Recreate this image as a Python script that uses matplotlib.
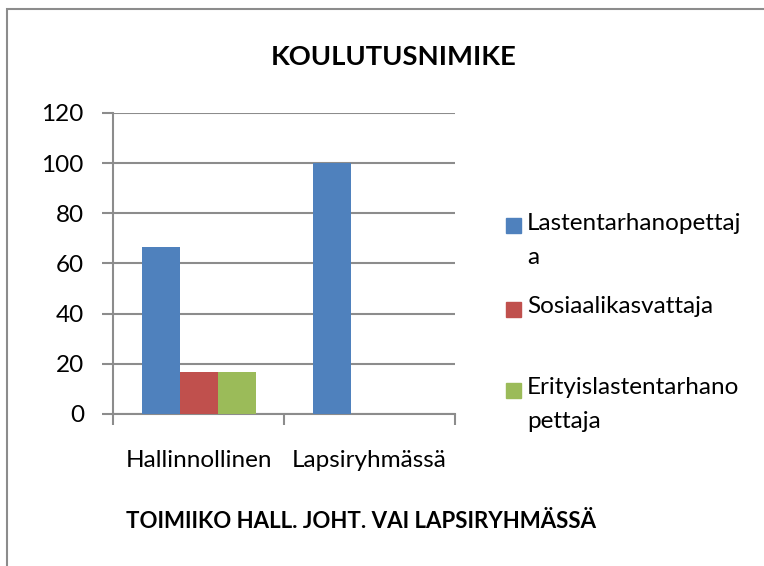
import numpy as np
import matplotlib.pyplot as plt
from matplotlib.patches import Rectangle

plt.rcParams['font.family'] = ['Lato', 'DejaVu Sans']

categories = ['Hallinnollinen', 'Lapsiryhmässä']
series_names = ['Lastentarhanopettaj\na', 'Sosiaalikasvattaja', 'Erityislastentarhano\npettaja']
values = [
    [66.67, 100.0],
    [16.67, 0.0],
    [16.67, 0.0],
]
colors = ['#4f81bd', '#c0504d', '#9bbb59']
yticks = [0, 20, 40, 60, 80, 100, 120]

fig = plt.figure(figsize=(7.64, 5.66), dpi=100)
ax = fig.add_axes([0.148, 0.2686, 0.4476, 0.5318])

# outer chart frame (cut off at right and bottom like in the original)
fig.patches.append(Rectangle((0.0092, -0.1), 1.2, 1.084, transform=fig.transFigure,
                             fill=False, edgecolor='#8c8c8c', linewidth=1.5))

x = np.arange(len(categories))
w = 1 / 4.5
for i, (name, vals) in enumerate(zip(series_names, values)):
    ax.bar(x + (i - 1) * w, vals, width=w, color=colors[i], label=name, zorder=3)

ax.set_ylim(0, 120)
ax.set_xlim(-0.5, 1.5)
ax.set_yticks(yticks)
ax.grid(axis='y', color='#8c8c8c', linewidth=1.5, zorder=0)
ax.set_xticks([-0.5, 0.5, 1.5])
ax.set_xticklabels([])
ax.set_xticks(x, minor=True)
ax.set_xticklabels(categories, minor=True, fontsize=17.5)
ax.tick_params(axis='x', which='minor', length=0, pad=26)
ax.tick_params(axis='x', which='major', length=8, color='#8c8c8c', width=1.5)
ax.tick_params(axis='y', length=8, color='#8c8c8c', width=1.5, labelsize=17.5, pad=13)
for s in ['top', 'right']:
    ax.spines[s].set_visible(False)
for s in ['left', 'bottom']:
    ax.spines[s].set_color('#8c8c8c')
    ax.spines[s].set_linewidth(1.5)

fig.text(0.515, 0.899, 'KOULUTUSNIMIKE', ha='center', va='center',
         fontsize=19.7, fontweight='bold')
fig.text(0.4725, 0.0795, 'TOIMIIKO HALL. JOHT. VAI LAPSIRYHMÄSSÄ', ha='center', va='center',
         fontsize=16, fontweight='bold')

# legend drawn by hand so the marker sits next to the first line of wrapped names
leg_y = [226, 309, 390]
for name, c, yy in zip(series_names, colors, leg_y):
    yf = 1 - yy / 566
    fig.patches.append(Rectangle((506 / 764, yf - 7.5 / 566), 15 / 764, 15 / 566,
                                 transform=fig.transFigure, color=c))
    fig.text(527 / 764, yf + 13 / 566, name, ha='left', va='top', fontsize=17.5,
             linespacing=1.75)

fig.savefig('out.png', dpi=100)
